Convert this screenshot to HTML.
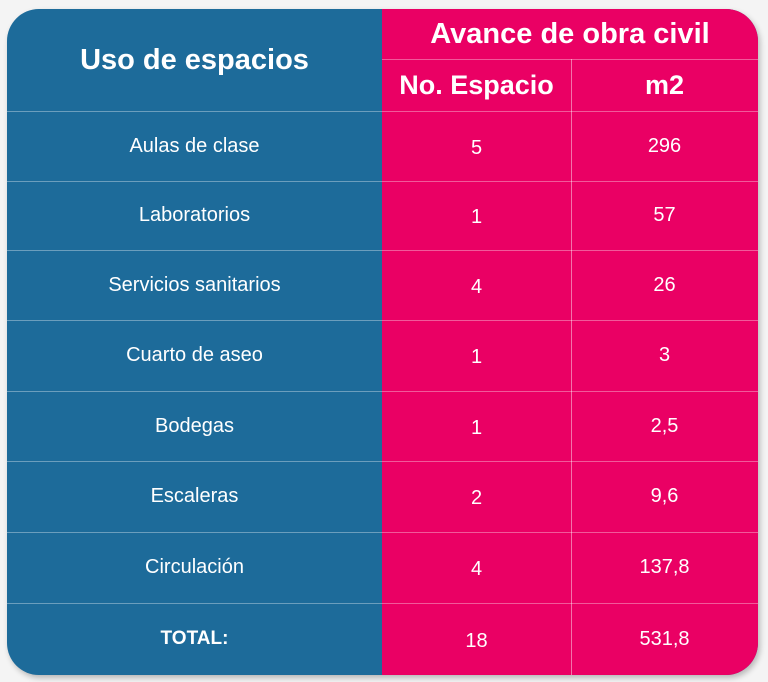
<!DOCTYPE html>
<html><head><meta charset="utf-8"><style>
body{margin:0;width:768px;height:682px;background:#f4f4f4;position:relative;overflow:hidden;font-family:"Liberation Sans",sans-serif}
#card{position:absolute;left:7px;top:9px;width:751px;height:666px;border-radius:32px;overflow:hidden;box-shadow:2px 3px 6px rgba(0,0,0,.25);background:#1d6b9a}
#pink{position:absolute;left:375px;top:0;width:376px;height:666px;background:#ea0064}
.c{position:absolute;color:#fff;text-align:center;display:flex;align-items:center;justify-content:center}
.h{position:absolute;height:1px;background:rgba(255,255,255,.35)}
.v{position:absolute;width:1px;background:rgba(255,255,255,.45)}
</style></head><body>
<div id="card">
<div id="pink"></div>
<div class="c" style="left:0;top:0;width:375px;height:102px;font-size:29px;font-weight:bold">Uso de espacios</div>
<div class="c" style="left:375px;top:0;width:376px;height:50px;font-size:29px;font-weight:bold">Avance de obra civil</div>
<div class="c" style="left:375px;top:50px;width:189px;height:52px;font-size:27px;font-weight:bold">No. Espacio</div>
<div class="c" style="left:564px;top:50px;width:187px;height:52px;font-size:27px;font-weight:bold">m2</div>
<div class="h" style="left:375px;top:50px;width:376px"></div>
<div class="v" style="left:564px;top:50px;height:616px"></div>
<div id="rows"></div>
</div>
<script>
const labels=["Aulas de clase","Laboratorios","Servicios sanitarios","Cuarto de aseo","Bodegas","Escaleras","Circulación","TOTAL:"];
const counts=["5","1","4","1","1","2","4","18"];
const areas=["296","57","26","3","2,5","9,6","137,8","531,8"];
const tops=[102,172,241,311,382,452,523,594,666];
const card=document.getElementById('card');
labels.forEach((l,i)=>{
  const y=tops[i],h=tops[i+1]-y;
  const ln=document.createElement('div');ln.className='h';
  ln.style.cssText=`left:0;top:${y}px;width:751px`;
  
  
  card.appendChild(ln);
  const a=document.createElement('div');a.className='c';
  a.style.cssText=`left:0;top:${y}px;width:375px;height:${h}px;font-size:20px;${i==7?'font-weight:bold;font-size:19px':''}`;
  a.textContent=l;
  
  
  card.appendChild(a);
  const b=document.createElement('div');b.className='c';
  b.style.cssText=`left:375px;top:${y+2}px;width:189px;height:${h}px;font-size:20px`;
  b.textContent=counts[i];
  
  
  card.appendChild(b);
  const c=document.createElement('div');c.className='c';
  c.style.cssText=`left:564px;top:${y}px;width:187px;height:${h}px;font-size:20px`;
  c.textContent=areas[i];
  
  
  card.appendChild(c);
});
</script>
</body></html>
